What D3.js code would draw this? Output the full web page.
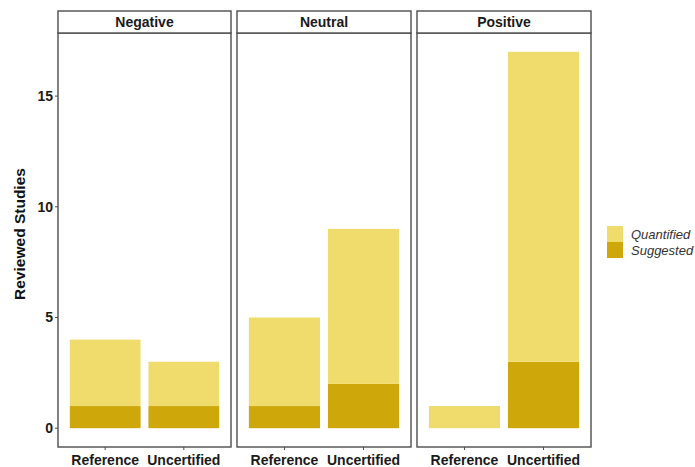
<!DOCTYPE html>
<html>
<head>
<meta charset="utf-8">
<script src="https://cdn.jsdelivr.net/npm/d3@7"></script>
<style>
  body { margin: 0; background: #fff; }
  svg { font-family: "Liberation Sans", Arial, sans-serif; }
</style>
</head>
<body>
<svg id="chart" width="695" height="467"></svg>
<script>
// Facets, x categories and stacked series
const facets = ["Negative", "Neutral", "Positive"];
const groups = ["Reference", "Uncertified"];
const seriesNames = ["Suggested", "Quantified"];
// Counts per facet, in the order of `groups`
const suggested = {
  Negative: [1, 1],
  Neutral:  [1, 2],
  Positive: [0, 3]
};
const quantified = {
  Negative: [3, 2],
  Neutral:  [4, 7],
  Positive: [1, 14]
};
const yTicks = [0, 5, 10, 15];
const legendOrder = ["Quantified", "Suggested"];

const colors = { Quantified: "#EFDC6C", Suggested: "#CEA80B" };

const svg = d3.select("#chart");

const panelTop = 33, panelBottom = 447;
const stripTop = 11;
const panelX = [[58, 231], [237, 411], [417, 591]];

const yMax = 17;
const y = d3.scaleLinear()
  .domain([-0.05 * yMax, yMax * 1.05])
  .range([panelBottom, panelTop]);

facets.forEach((facet, fi) => {
  const [x0, x1] = panelX[fi];
  const g = svg.append("g");

  // discrete positions: 0.6 unit padding each side, bars 0.9 unit wide
  const unit = (x1 - x0) / 2.2;
  const x = d3.scalePoint().domain(groups).range([x0 + 0.6 * unit, x1 - 0.6 * unit]);
  const bw = 0.9 * unit;

  // stacked bars
  const rows = groups.map(grp => ({
    group: grp,
    Suggested: suggested[facet][groups.indexOf(grp)],
    Quantified: quantified[facet][groups.indexOf(grp)]
  }));
  const stacked = d3.stack().keys(seriesNames)(rows);
  stacked.forEach(layer => {
    g.selectAll(null)
      .data(layer)
      .join("rect")
      .attr("x", d => x(d.data.group) - bw / 2)
      .attr("width", bw)
      .attr("y", d => y(d[1]))
      .attr("height", d => y(d[0]) - y(d[1]))
      .attr("fill", colors[layer.key]);
  });

  // panel border
  g.append("rect")
    .attr("x", x0).attr("y", panelTop)
    .attr("width", x1 - x0).attr("height", panelBottom - panelTop)
    .attr("fill", "none").attr("stroke", "#4d4d4d").attr("stroke-width", 1.4);

  // strip
  g.append("rect")
    .attr("x", x0).attr("y", stripTop)
    .attr("width", x1 - x0).attr("height", panelTop - stripTop)
    .attr("fill", "#fff").attr("stroke", "#4d4d4d").attr("stroke-width", 1.4);
  g.append("text")
    .attr("x", (x0 + x1) / 2).attr("y", (stripTop + panelTop) / 2 + 5)
    .attr("text-anchor", "middle")
    .attr("font-size", 14).attr("font-weight", "bold").attr("fill", "#1a1a1a")
    .text(facet);

  // x ticks and labels
  groups.forEach(grp => {
    g.append("line")
      .attr("x1", x(grp)).attr("x2", x(grp))
      .attr("y1", panelBottom).attr("y2", panelBottom + 3)
      .attr("stroke", "#4d4d4d").attr("stroke-width", 1);
    g.append("text")
      .attr("x", x(grp)).attr("y", panelBottom + 18)
      .attr("text-anchor", "middle")
      .attr("font-size", 14).attr("font-weight", "bold").attr("fill", "#1a1a1a")
      .text(grp);
  });
});

// y axis on the first panel
const yAxisG = svg.append("g");
yTicks.forEach(t => {
  yAxisG.append("line")
    .attr("x1", panelX[0][0] - 3).attr("x2", panelX[0][0])
    .attr("y1", y(t)).attr("y2", y(t))
    .attr("stroke", "#4d4d4d").attr("stroke-width", 1);
  yAxisG.append("text")
    .attr("x", panelX[0][0] - 5).attr("y", y(t) + 5)
    .attr("text-anchor", "end")
    .attr("font-size", 14).attr("font-weight", "bold").attr("fill", "#1a1a1a")
    .text(t);
});

svg.append("text")
  .attr("transform", `translate(25, 234) rotate(-90)`)
  .attr("text-anchor", "middle")
  .attr("font-size", 15.5).attr("font-weight", "bold").attr("fill", "#111")
  .text("Reviewed Studies");

// legend
const legend = svg.append("g");
legendOrder.forEach((name, i) => {
  const ky = 226 + i * 16;
  legend.append("rect")
    .attr("x", 607).attr("y", ky)
    .attr("width", 16).attr("height", 16)
    .attr("fill", colors[name]);
  legend.append("text")
    .attr("x", 631).attr("y", ky + 12.5)
    .attr("font-size", 13).attr("font-style", "italic").attr("fill", "#333")
    .text(name);
});
</script>
</body>
</html>
